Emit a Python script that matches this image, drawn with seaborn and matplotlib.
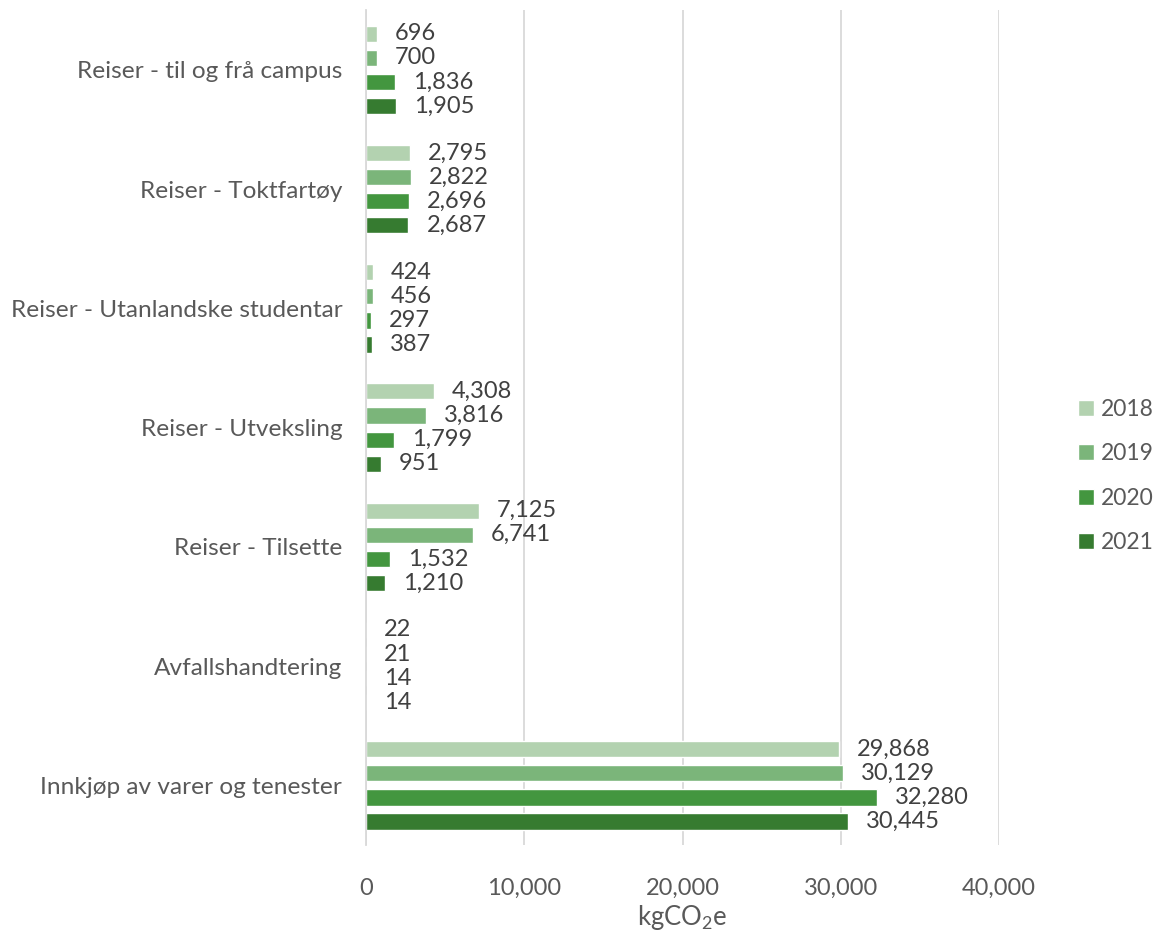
import matplotlib
matplotlib.use("Agg")
import matplotlib.pyplot as plt
from matplotlib.ticker import FuncFormatter
import seaborn as sns
import pandas as pd

categories = [
    "Reiser - til og frå campus",
    "Reiser - Toktfartøy",
    "Reiser - Utanlandske studentar",
    "Reiser - Utveksling",
    "Reiser - Tilsette",
    "Avfallshandtering",
    "Innkjøp av varer og tenester",
]
years = ["2018", "2019", "2020", "2021"]
values_2018 = [696, 2795, 424, 4308, 7125, 22, 29868]
values_2019 = [700, 2822, 456, 3816, 6741, 21, 30129]
values_2020 = [1836, 2696, 297, 1799, 1532, 14, 32280]
values_2021 = [1905, 2687, 387, 951, 1210, 14, 30445]
colors = ["#b3d2b0", "#7bb57a", "#43963f", "#367b30"]

series = [values_2018, values_2019, values_2020, values_2021]
df = pd.DataFrame(
    [(c, y, v) for y, vals in zip(years, series) for c, v in zip(categories, vals)],
    columns=["kategori", "år", "verdi"],
)

sns.set_theme(style="white")
plt.rcParams["font.family"] = ["Lato", "DejaVu Sans"]
plt.rcParams["mathtext.default"] = "regular"
text_color = "#595959"
value_color = "#404040"

fig = plt.figure(figsize=(11.57, 9.31), dpi=100)
ax = fig.add_axes([0.3163, 0.0924, 0.5472, 0.8966])

sns.barplot(
    data=df, y="kategori", x="verdi", hue="år", order=categories,
    hue_order=years, palette=colors, orient="h", width=0.81, gap=0.33,
    saturation=1, ax=ax, legend=True,
)

for container in ax.containers:
    ax.bar_label(container, labels=[f"{v:,.0f}" for v in container.datavalues],
                 padding=13, fontsize=17, color=value_color)

ax.set_xlim(0, 40000)
ax.set_ylim(6.5, -0.5)
ax.set_xticks([0, 10000, 20000, 30000, 40000])
ax.xaxis.set_major_formatter(FuncFormatter(lambda v, p: f"{v:,.0f}"))
ax.grid(axis="x", color="#d9d9d9", linewidth=1.3)
ax.set_axisbelow(True)
for s in ["top", "right", "bottom"]:
    ax.spines[s].set_visible(False)
ax.spines["left"].set_color("#d9d9d9")
ax.spines["left"].set_linewidth(1.3)
ax.tick_params(axis="x", length=0, pad=24, labelsize=17, labelcolor=text_color)
ax.tick_params(axis="y", length=0, pad=17, labelsize=17.6, labelcolor=text_color)
ax.set_ylabel("")
ax.set_xlabel("kgCO$_2$e", fontsize=18.5, color=text_color, labelpad=3)

handles, labels = ax.get_legend_handles_labels()
ax.legend(handles, labels, loc="center left",
          bbox_to_anchor=(1057 / 1157, 1 - 476 / 931), bbox_transform=fig.transFigure,
          frameon=False, fontsize=16.5, labelcolor=text_color,
          handlelength=0.7, handleheight=0.7, handletextpad=0.3,
          labelspacing=1.03)

fig.savefig("out.png", dpi=100)
